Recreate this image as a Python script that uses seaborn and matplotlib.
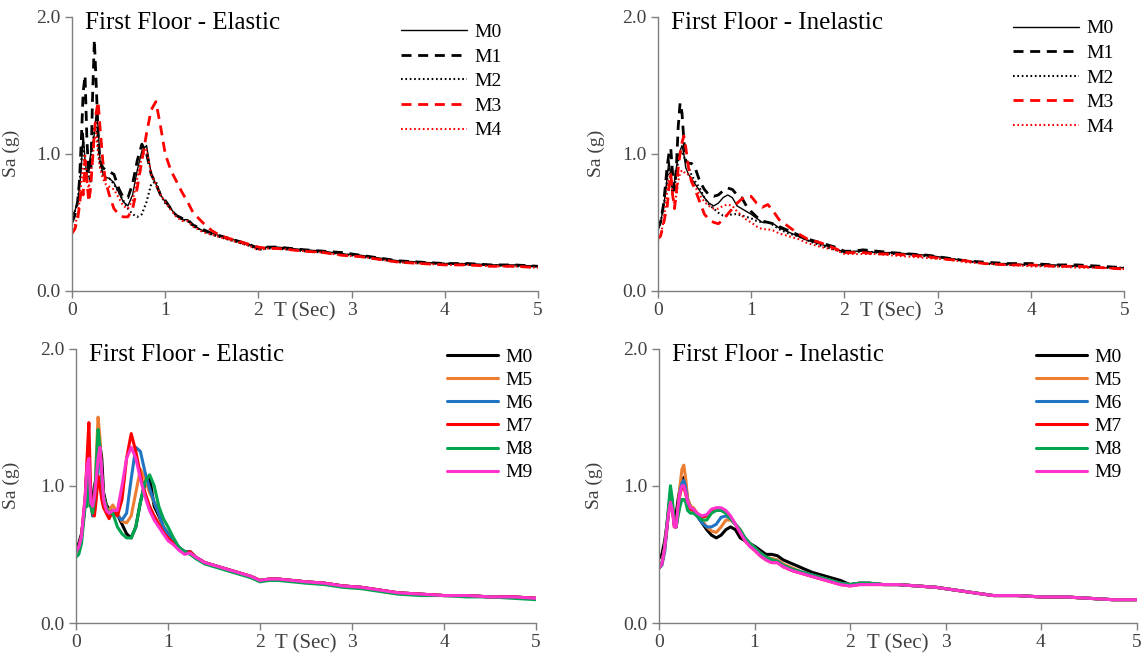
import matplotlib
matplotlib.use("Agg")
import matplotlib.pyplot as plt
import seaborn as sns

# ---------------------------------------------------------------------------
# Spectral acceleration Sa (g) versus period T (s), first floor
# ---------------------------------------------------------------------------
period = [0.00, 0.03, 0.06, 0.08, 0.10, 0.12, 0.14, 0.16, 0.18, 0.20,
          0.22, 0.24, 0.26, 0.28, 0.30, 0.33, 0.36, 0.40, 0.45, 0.50,
          0.55, 0.60, 0.65, 0.70, 0.75, 0.80, 0.85, 0.90, 0.95, 1.00,
          1.06, 1.12, 1.18, 1.24, 1.30, 1.40, 1.50, 1.60, 1.75, 1.90,
          2.00, 2.10, 2.20, 2.35, 2.50, 2.70, 2.90, 3.10, 3.30, 3.50,
          3.75, 4.00, 4.25, 4.50, 4.75, 5.00]

# Elastic response
el_m0 = [0.55, 0.58, 0.65, 0.75, 0.90, 1.15, 0.95, 0.85, 0.90, 1.00,
         1.05, 1.15, 1.30, 1.20, 0.95, 0.86, 0.83, 0.82, 0.79, 0.72,
         0.65, 0.62, 0.70, 0.88, 1.02, 1.06, 0.85, 0.78, 0.70, 0.65,
         0.60, 0.55, 0.52, 0.52, 0.48, 0.44, 0.42, 0.40, 0.37, 0.34,
         0.31, 0.32, 0.32, 0.31, 0.30, 0.29, 0.27, 0.26, 0.24, 0.22,
         0.21, 0.20, 0.20, 0.19, 0.19, 0.18]
el_m1 = [0.50, 0.55, 0.65, 0.80, 1.10, 1.45, 1.57, 1.10, 0.85, 0.80,
         1.40, 1.83, 1.50, 1.15, 0.95, 0.90, 0.88, 0.87, 0.85, 0.75,
         0.68, 0.68, 0.78, 0.95, 1.07, 1.00, 0.85, 0.78, 0.70, 0.66,
         0.60, 0.55, 0.53, 0.52, 0.48, 0.45, 0.42, 0.40, 0.37, 0.34,
         0.31, 0.32, 0.32, 0.31, 0.30, 0.29, 0.28, 0.26, 0.24, 0.22,
         0.21, 0.20, 0.20, 0.19, 0.19, 0.18]
el_m2 = [0.55, 0.58, 0.65, 0.78, 0.95, 1.10, 0.90, 0.80, 0.85, 0.95,
         1.05, 1.20, 1.25, 1.05, 0.92, 0.85, 0.82, 0.82, 0.78, 0.72,
         0.66, 0.60, 0.56, 0.54, 0.56, 0.65, 0.78, 0.80, 0.70, 0.64,
         0.60, 0.55, 0.52, 0.51, 0.47, 0.44, 0.41, 0.39, 0.36, 0.33,
         0.30, 0.31, 0.31, 0.30, 0.29, 0.28, 0.27, 0.25, 0.23, 0.21,
         0.20, 0.20, 0.19, 0.19, 0.18, 0.18]
el_m3 = [0.42, 0.45, 0.52, 0.62, 0.75, 0.70, 0.95, 0.80, 0.65, 0.75,
         0.95, 1.15, 1.30, 1.38, 1.20, 0.95, 0.80, 0.70, 0.60, 0.56,
         0.54, 0.54, 0.60, 0.75, 0.95, 1.15, 1.32, 1.38, 1.20, 1.00,
         0.88, 0.80, 0.72, 0.65, 0.57, 0.50, 0.44, 0.40, 0.37, 0.34,
         0.32, 0.31, 0.31, 0.30, 0.29, 0.28, 0.26, 0.25, 0.23, 0.21,
         0.20, 0.19, 0.19, 0.18, 0.18, 0.17]
el_m4 = [0.45, 0.48, 0.55, 0.65, 0.80, 0.90, 1.00, 0.80, 0.75, 0.85,
         0.95, 1.10, 1.15, 1.00, 0.90, 0.82, 0.78, 0.76, 0.74, 0.68,
         0.62, 0.60, 0.66, 0.82, 0.98, 1.03, 0.85, 0.78, 0.70, 0.65,
         0.59, 0.54, 0.51, 0.51, 0.47, 0.43, 0.41, 0.39, 0.36, 0.33,
         0.30, 0.31, 0.31, 0.30, 0.29, 0.28, 0.26, 0.25, 0.23, 0.21,
         0.20, 0.19, 0.19, 0.18, 0.18, 0.17]
el_m5 = [0.52, 0.55, 0.63, 0.75, 0.88, 0.85, 1.20, 0.90, 0.78, 0.80,
         1.20, 1.50, 1.35, 1.05, 0.92, 0.84, 0.82, 0.86, 0.80, 0.74,
         0.73, 0.78, 0.95, 1.12, 1.05, 0.95, 0.88, 0.80, 0.70, 0.64,
         0.59, 0.55, 0.52, 0.52, 0.48, 0.44, 0.42, 0.40, 0.37, 0.34,
         0.31, 0.32, 0.32, 0.31, 0.30, 0.29, 0.27, 0.26, 0.24, 0.22,
         0.21, 0.20, 0.20, 0.19, 0.19, 0.18]
el_m6 = [0.52, 0.55, 0.63, 0.75, 0.88, 0.88, 1.15, 0.95, 0.78, 0.80,
         1.00, 1.20, 1.25, 1.00, 0.90, 0.82, 0.80, 0.82, 0.78, 0.75,
         0.80, 1.05, 1.28, 1.25, 1.10, 0.98, 0.88, 0.80, 0.70, 0.65,
         0.60, 0.55, 0.52, 0.52, 0.48, 0.44, 0.42, 0.40, 0.37, 0.34,
         0.31, 0.32, 0.32, 0.31, 0.30, 0.29, 0.27, 0.26, 0.24, 0.22,
         0.21, 0.20, 0.20, 0.19, 0.19, 0.18]
el_m7 = [0.52, 0.55, 0.63, 0.78, 0.92, 1.20, 1.46, 0.95, 0.80, 0.78,
         0.90, 1.07, 1.00, 0.90, 0.84, 0.80, 0.76, 0.82, 0.78, 0.90,
         1.20, 1.38, 1.25, 1.08, 0.95, 0.85, 0.78, 0.72, 0.66, 0.62,
         0.58, 0.54, 0.51, 0.52, 0.48, 0.44, 0.42, 0.40, 0.37, 0.34,
         0.31, 0.32, 0.32, 0.31, 0.30, 0.29, 0.27, 0.26, 0.24, 0.22,
         0.21, 0.20, 0.20, 0.19, 0.19, 0.18]
el_m8 = [0.48, 0.50, 0.58, 0.72, 0.85, 0.85, 1.10, 0.85, 0.80, 0.90,
         1.15, 1.41, 1.28, 1.05, 0.92, 0.84, 0.80, 0.80, 0.70, 0.65,
         0.62, 0.62, 0.70, 0.88, 1.03, 1.08, 1.00, 0.85, 0.76, 0.70,
         0.62, 0.55, 0.52, 0.50, 0.47, 0.43, 0.41, 0.39, 0.36, 0.33,
         0.30, 0.31, 0.31, 0.30, 0.29, 0.28, 0.26, 0.25, 0.23, 0.21,
         0.20, 0.20, 0.19, 0.19, 0.18, 0.17]
el_m9 = [0.52, 0.55, 0.63, 0.78, 0.92, 1.15, 1.20, 0.88, 0.85, 0.92,
         1.05, 1.20, 1.28, 1.10, 0.90, 0.82, 0.80, 0.82, 0.82, 1.00,
         1.20, 1.28, 1.20, 1.05, 0.92, 0.82, 0.75, 0.70, 0.65, 0.60,
         0.57, 0.53, 0.50, 0.51, 0.48, 0.44, 0.42, 0.40, 0.37, 0.34,
         0.31, 0.32, 0.32, 0.31, 0.30, 0.29, 0.27, 0.26, 0.24, 0.22,
         0.21, 0.20, 0.20, 0.19, 0.19, 0.18]

# Inelastic response
in_m0 = [0.47, 0.50, 0.60, 0.70, 0.82, 0.95, 0.85, 0.72, 0.80, 0.90,
         0.98, 1.02, 1.06, 1.00, 0.90, 0.85, 0.82, 0.78, 0.73, 0.68,
         0.64, 0.62, 0.64, 0.68, 0.70, 0.68, 0.62, 0.60, 0.58, 0.56,
         0.53, 0.50, 0.50, 0.49, 0.46, 0.43, 0.40, 0.37, 0.34, 0.31,
         0.28, 0.29, 0.29, 0.28, 0.28, 0.27, 0.26, 0.24, 0.22, 0.20,
         0.20, 0.19, 0.19, 0.18, 0.17, 0.17]
in_m1 = [0.45, 0.50, 0.62, 0.75, 0.90, 1.00, 1.04, 0.85, 0.74, 0.90,
         1.20, 1.37, 1.30, 1.10, 0.95, 0.93, 0.93, 0.90, 0.80, 0.74,
         0.70, 0.69, 0.70, 0.73, 0.75, 0.74, 0.70, 0.68, 0.62, 0.58,
         0.54, 0.51, 0.50, 0.49, 0.47, 0.44, 0.41, 0.38, 0.35, 0.32,
         0.29, 0.29, 0.30, 0.29, 0.28, 0.27, 0.26, 0.24, 0.22, 0.21,
         0.20, 0.20, 0.19, 0.19, 0.18, 0.17]
in_m2 = [0.47, 0.50, 0.60, 0.70, 0.80, 0.90, 0.82, 0.70, 0.75, 0.85,
         0.95, 1.00, 1.02, 0.98, 0.95, 0.90, 0.85, 0.80, 0.75, 0.68,
         0.63, 0.60, 0.57, 0.55, 0.55, 0.56, 0.56, 0.55, 0.54, 0.53,
         0.51, 0.50, 0.50, 0.48, 0.45, 0.42, 0.40, 0.37, 0.33, 0.30,
         0.28, 0.28, 0.29, 0.28, 0.27, 0.27, 0.25, 0.24, 0.22, 0.20,
         0.19, 0.19, 0.18, 0.18, 0.17, 0.17]
in_m3 = [0.38, 0.40, 0.48, 0.55, 0.60, 0.75, 0.85, 0.70, 0.60, 0.72,
         0.90, 1.00, 1.08, 1.13, 1.05, 0.90, 0.80, 0.74, 0.65, 0.56,
         0.52, 0.50, 0.49, 0.52, 0.56, 0.60, 0.64, 0.67, 0.69, 0.69,
         0.64, 0.61, 0.63, 0.58, 0.52, 0.47, 0.42, 0.38, 0.35, 0.31,
         0.28, 0.28, 0.28, 0.27, 0.27, 0.26, 0.25, 0.23, 0.22, 0.20,
         0.19, 0.19, 0.18, 0.18, 0.17, 0.16]
in_m4 = [0.36, 0.40, 0.50, 0.60, 0.72, 0.82, 0.85, 0.70, 0.62, 0.70,
         0.80, 0.86, 0.88, 0.87, 0.85, 0.85, 0.82, 0.76, 0.70, 0.65,
         0.62, 0.60, 0.60, 0.62, 0.63, 0.62, 0.58, 0.55, 0.52, 0.50,
         0.47, 0.45, 0.45, 0.44, 0.42, 0.40, 0.38, 0.35, 0.32, 0.30,
         0.27, 0.27, 0.27, 0.27, 0.26, 0.25, 0.24, 0.23, 0.21, 0.20,
         0.19, 0.18, 0.18, 0.17, 0.17, 0.16]
in_m5 = [0.40, 0.43, 0.55, 0.68, 0.80, 0.90, 0.85, 0.72, 0.70, 0.85,
         1.00, 1.12, 1.15, 1.05, 0.90, 0.85, 0.84, 0.80, 0.75, 0.70,
         0.67, 0.66, 0.70, 0.75, 0.75, 0.72, 0.68, 0.62, 0.58, 0.55,
         0.51, 0.48, 0.47, 0.46, 0.43, 0.40, 0.37, 0.35, 0.32, 0.29,
         0.28, 0.29, 0.29, 0.28, 0.28, 0.27, 0.26, 0.24, 0.22, 0.20,
         0.20, 0.19, 0.19, 0.18, 0.17, 0.17]
in_m6 = [0.40, 0.42, 0.52, 0.66, 0.80, 0.90, 0.84, 0.72, 0.70, 0.82,
         0.96, 1.02, 1.04, 0.98, 0.88, 0.83, 0.82, 0.78, 0.73, 0.70,
         0.70, 0.72, 0.77, 0.78, 0.76, 0.72, 0.67, 0.62, 0.58, 0.55,
         0.51, 0.48, 0.46, 0.45, 0.42, 0.39, 0.37, 0.35, 0.32, 0.29,
         0.28, 0.29, 0.29, 0.28, 0.28, 0.27, 0.26, 0.24, 0.22, 0.20,
         0.20, 0.19, 0.19, 0.18, 0.17, 0.17]
in_m7 = [0.40, 0.43, 0.55, 0.68, 0.82, 0.90, 0.84, 0.70, 0.70, 0.84,
         0.94, 0.99, 0.99, 0.94, 0.87, 0.83, 0.82, 0.79, 0.77, 0.78,
         0.82, 0.83, 0.83, 0.81, 0.77, 0.72, 0.66, 0.60, 0.56, 0.53,
         0.49, 0.46, 0.44, 0.44, 0.41, 0.38, 0.36, 0.34, 0.31, 0.28,
         0.27, 0.28, 0.28, 0.28, 0.28, 0.27, 0.26, 0.24, 0.22, 0.20,
         0.20, 0.19, 0.19, 0.18, 0.17, 0.17]
in_m8 = [0.40, 0.43, 0.55, 0.70, 0.85, 1.00, 0.90, 0.72, 0.70, 0.78,
         0.85, 0.90, 0.90, 0.88, 0.82, 0.80, 0.80, 0.78, 0.75, 0.75,
         0.80, 0.82, 0.82, 0.80, 0.76, 0.72, 0.68, 0.62, 0.58, 0.55,
         0.51, 0.48, 0.46, 0.45, 0.42, 0.39, 0.37, 0.35, 0.32, 0.29,
         0.28, 0.29, 0.29, 0.28, 0.28, 0.27, 0.26, 0.24, 0.22, 0.20,
         0.20, 0.19, 0.19, 0.18, 0.17, 0.17]
in_m9 = [0.40, 0.43, 0.55, 0.68, 0.80, 0.88, 0.82, 0.70, 0.70, 0.85,
         0.95, 1.00, 1.00, 0.95, 0.88, 0.84, 0.83, 0.80, 0.78, 0.79,
         0.83, 0.84, 0.84, 0.82, 0.78, 0.72, 0.66, 0.60, 0.56, 0.53,
         0.49, 0.46, 0.44, 0.44, 0.41, 0.38, 0.36, 0.34, 0.31, 0.28,
         0.27, 0.28, 0.28, 0.28, 0.28, 0.27, 0.26, 0.24, 0.22, 0.20,
         0.20, 0.19, 0.19, 0.18, 0.17, 0.17]

x_ticks = [0, 1, 2, 3, 4, 5]
y_ticks = [0.0, 1.0, 2.0]
y_tick_labels = ["0.0", "1.0", "2.0"]

# ---------------------------------------------------------------------------
sns.set_style("ticks")
plt.rcParams["font.family"] = ["Liberation Serif", "DejaVu Serif"]

SPINE = "#7f7f7f"
TICKLAB = "#404040"

DASH = (0, (3.6, 2.4))
DOT = (0, (0.8, 1.3))

mono_styles = {
    "M0": dict(color="black", lw=1.0, ls="-"),
    "M1": dict(color="black", lw=2.0, ls=DASH),
    "M2": dict(color="black", lw=1.5, ls=DOT),
    "M3": dict(color="#ff0000", lw=2.0, ls=DASH),
    "M4": dict(color="#ff0000", lw=1.5, ls=DOT),
}
colour_styles = {
    "M0": dict(color="black", lw=2.2, ls="-"),
    "M5": dict(color="#ED7D31", lw=2.2, ls="-"),
    "M6": dict(color="#1F74C4", lw=2.2, ls="-"),
    "M7": dict(color="#FF0000", lw=2.2, ls="-"),
    "M8": dict(color="#00A550", lw=2.2, ls="-"),
    "M9": dict(color="#FF33CC", lw=2.2, ls="-"),
}

W, H = 1143, 659
fig = plt.figure(figsize=(W / 100, H / 100), dpi=100)


def make_axes(x0, x1, ytop, ybot):
    return fig.add_axes([x0 / W, 1 - ybot / H, (x1 - x0) / W, (ybot - ytop) / H])


panels = [
    dict(box=(72, 538, 16.5, 291), title="First Floor - Elastic",
         series=[("M0", el_m0), ("M1", el_m1), ("M2", el_m2), ("M3", el_m3), ("M4", el_m4)],
         styles=mono_styles, leg=(0.705, 0.975), hl=3.4, ls=0.36, ylab=-0.112),
    dict(box=(657.7, 1124.4, 16.5, 291), title="First Floor - Inelastic",
         series=[("M0", in_m0), ("M1", in_m1), ("M2", in_m2), ("M3", in_m3), ("M4", in_m4)],
         styles=mono_styles, leg=(0.761, 0.988), hl=3.4, ls=0.36, ylab=-0.113),
    dict(box=(76, 536, 348.5, 623), title="First Floor - Elastic",
         series=[("M0", el_m0), ("M5", el_m5), ("M6", el_m6), ("M7", el_m7), ("M8", el_m8), ("M9", el_m9)],
         styles=colour_styles, leg=(0.807, 1.0), hl=2.6, ls=0.28, ylab=-0.122),
    dict(box=(659, 1136.5, 348.5, 623), title="First Floor - Inelastic",
         series=[("M0", in_m0), ("M5", in_m5), ("M6", in_m6), ("M7", in_m7), ("M8", in_m8), ("M9", in_m9)],
         styles=colour_styles, leg=(0.790, 1.0), hl=2.6, ls=0.28, ylab=-0.117),
]

for p in panels:
    ax = make_axes(*p["box"])
    for name, values in p["series"]:
        st = p["styles"][name]
        sns.lineplot(x=period, y=values, ax=ax, color=st["color"], lw=st["lw"],
                     linestyle=st["ls"], label=name, sort=False)

    ax.set_xlim(0, 5)
    ax.set_ylim(0, 2)
    ax.set_xticks(x_ticks)
    ax.set_xticklabels([str(t) for t in x_ticks])
    ax.set_yticks(y_ticks)
    ax.set_yticklabels(y_tick_labels)
    sns.despine(ax=ax)
    for side in ("left", "bottom"):
        ax.spines[side].set_color(SPINE)
        ax.spines[side].set_linewidth(1.0)
    ax.tick_params(axis="both", direction="out", length=5, width=1.0, color=SPINE,
                   labelsize=14, labelcolor=TICKLAB, pad=3)

    ax.set_ylabel("Sa (g)", fontsize=14, color=TICKLAB)
    ax.yaxis.set_label_coords(p["ylab"], 0.5)
    ax.set_xlabel("T (Sec)", fontsize=15, color=TICKLAB)
    ax.xaxis.set_label_coords(0.5, -0.075)
    ax.xaxis.label.set_va("center")

    ax.text(0.028, 1.015, p["title"], transform=ax.transAxes, ha="left", va="top",
            fontsize=18, color="black")

    leg = ax.legend(loc="upper left", bbox_to_anchor=p["leg"], frameon=False,
                    fontsize=14, handlelength=p["hl"], handletextpad=0.4,
                    labelspacing=p["ls"], borderpad=0, borderaxespad=0)
    for txt in leg.get_texts():
        txt.set_color("black")

fig.savefig("out.png", dpi=100)
